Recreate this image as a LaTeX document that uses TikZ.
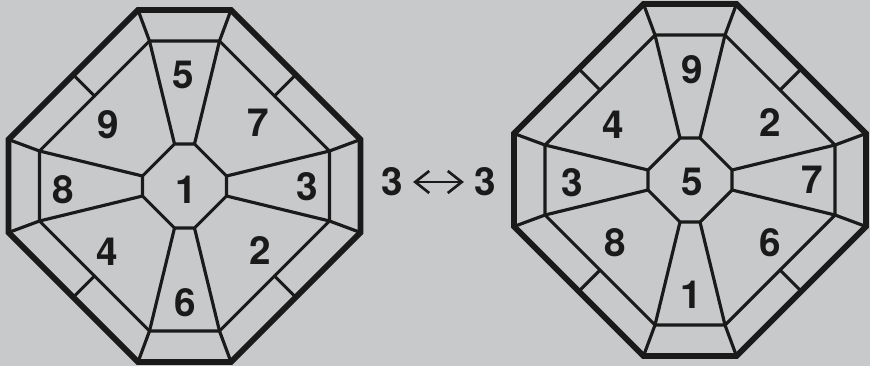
\documentclass[tikz,border=0pt]{standalone}
\usepackage{fontspec}
\setmainfont{TeX Gyre Heros}
\usetikzlibrary{arrows.meta}
\definecolor{boardgray}{HTML}{C8C9CB}
\definecolor{inkblack}{HTML}{1A1A1A}

% octagon sizes: half flat edge / half width
\def\outA{0.93}\def\outH{3.52}
\def\innA{0.70}\def\innH{2.90}
\def\hubA{0.20}\def\hubH{0.84}

\begin{document}
\begin{tikzpicture}[
  rim/.style={draw=inkblack, line width=3.3pt, line join=miter},
  web/.style={draw=inkblack, line width=1.8pt, line cap=round, line join=round},
  digit/.style={font=\fontsize{22}{22}\selectfont\bfseries, text=inkblack, inner sep=0pt},
  swaparrow/.style={inkblack, line width=1.5pt, <->, >={Straight Barb[length=0.28cm, width=0.44cm]}, shorten <=0.2cm, shorten >=0.2cm}
]
% Background
\fill[boardgray] (0,0) rectangle (17.4,-7.32);
\useasboundingbox (0,0) rectangle (17.4,-7.32);

% Both wheels
\foreach \cx/\cy in {3.69/-3.72, 13.8/-3.6} {
  \begin{scope}[shift={(\cx,\cy)}]
    \foreach \r in {0,90,180,270} {
      \begin{scope}[rotate=\r]
        \draw[web] (\hubA,\hubH) -- (\innA,\innH) -- (\outA,\outH);
        \draw[web] (\hubH,\hubA) -- (\innH,\innA) -- (\outH,\outA);
        \draw[web] ({(\innA+\innH)/2},{(\innA+\innH)/2}) -- ({(\outA+\outH)/2},{(\outA+\outH)/2});
      \end{scope}
    }
    \draw[web] (\innA,\innH) -- (\innH,\innA) -- (\innH,-\innA) -- (\innA,-\innH) -- (-\innA,-\innH) -- (-\innH,-\innA) -- (-\innH,\innA) -- (-\innA,\innH) -- cycle;
    \draw[web] (\hubA,\hubH) -- (\hubH,\hubA) -- (\hubH,-\hubA) -- (\hubA,-\hubH) -- (-\hubA,-\hubH) -- (-\hubH,-\hubA) -- (-\hubH,\hubA) -- (-\hubA,\hubH) -- cycle;
    \draw[rim] (\outA,\outH) -- (\outH,\outA) -- (\outH,-\outA) -- (\outA,-\outH) -- (-\outA,-\outH) -- (-\outH,-\outA) -- (-\outH,\outA) -- (-\outA,\outH) -- cycle;
  \end{scope}
}

% Numbers
\foreach \w/\d/\x/\y in {L5/5/3.66/-1.50, L9/9/2.16/-2.50, L7/7/5.16/-2.46, L8/8/1.26/-3.80, L1/1/3.72/-3.80,
    L3/3/6.14/-3.74, L4/4/2.14/-5.04, L2/2/5.20/-5.00, L6/6/3.70/-6.06,
    R9/9/13.84/-1.40, R4/4/12.26/-2.50, R2/2/15.40/-2.44, R3/3/11.44/-3.66, R5/5/13.84/-3.64,
    R7/7/16.24/-3.60, R8/8/12.30/-4.86, R6/6/15.40/-4.86, R1/1/13.82/-5.90} {
  \node[digit] (\w) at (\x,\y) {\d};
}

% Swap
\node[digit] (swapL) at (7.84,-3.64) {3};
\node[digit] (swapR) at (9.70,-3.64) {3};
\draw[swaparrow] (swapL) -- (swapR);
\end{tikzpicture}
\end{document}
